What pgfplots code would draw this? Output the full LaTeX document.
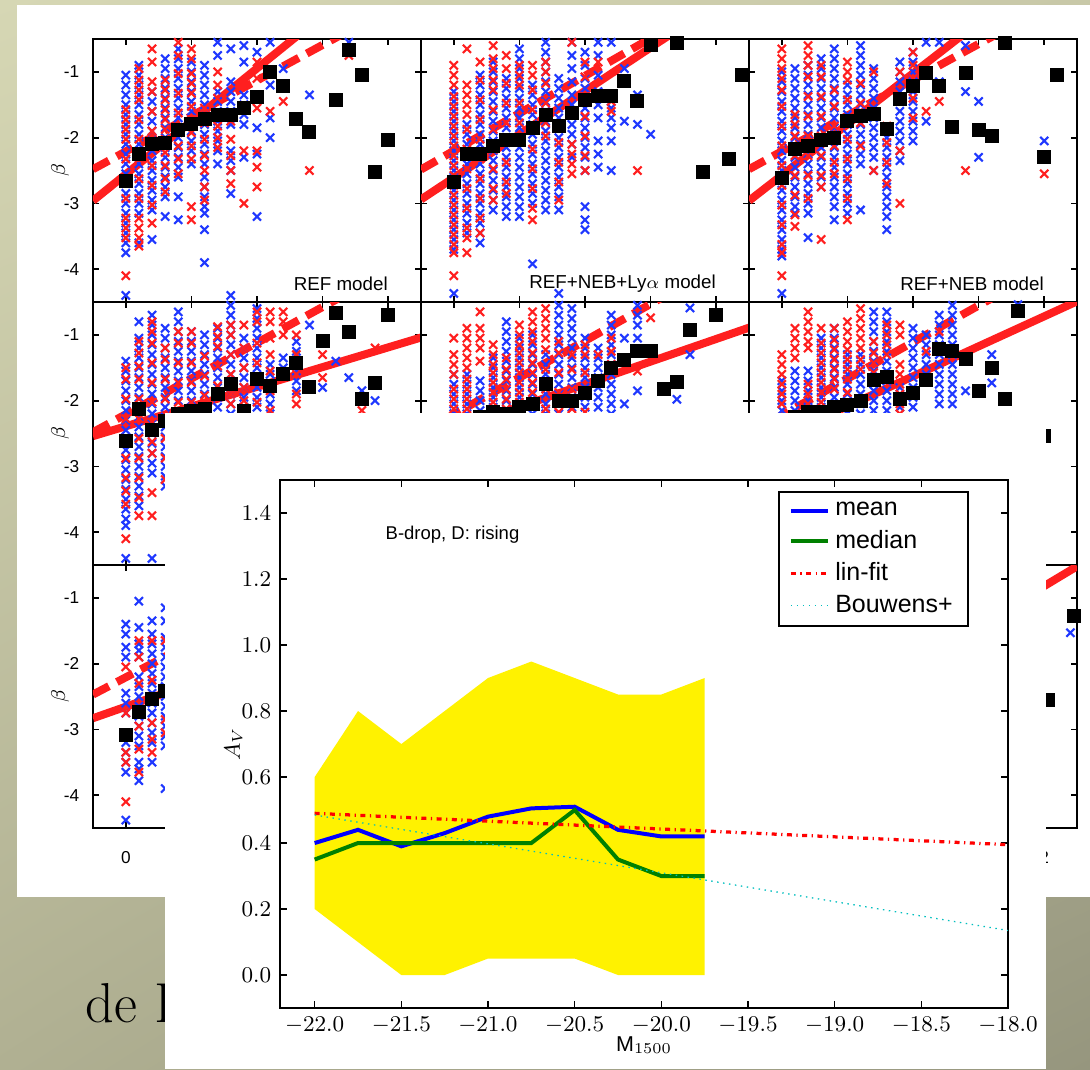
\documentclass[border=0pt]{standalone}
\usepackage{fontspec}
\usepackage{pgfplots}
\pgfplotsset{compat=1.18}
\usetikzlibrary{shadings}
\newfontfamily\hv{Liberation Sans}

\definecolor{mblue}{rgb}{0.12,0.22,1}
\definecolor{mred}{rgb}{1,0.12,0.12}
\definecolor{mgreen}{rgb}{0,0.5,0}
\definecolor{mcyan}{rgb}{0,0.75,0.75}
\definecolor{bgA}{RGB}{214,215,180}
\definecolor{bgB}{RGB}{200,200,168}
\definecolor{bgC}{RGB}{176,176,146}
\definecolor{bgD}{RGB}{150,150,126}

\tikzset{mlab/.style={anchor=east, inner sep=0pt, font=\hv\fontsize{7.5}{9}\selectfont}}

\pgfplotsset{
  panel/.style={scale only axis, width=131.2pt, height=105.2pt, anchor=north west,
    xmin=-0.25, xmax=2.25, ymin=-4.5, ymax=-0.5,
    xtick={0,0.5,1,1.5,2}, ytick={-4,-3,-2,-1},
    xticklabels={}, yticklabels={},
    tick align=inside, major tick length=2.4pt,
    axis line style={line width=0.9pt},
    every tick/.style={black, line width=0.7pt},
    tick label style={font=\hv\fontsize{6.9}{8}\selectfont}},
  leftcol/.style={yticklabels={-4,-3,-2,-1}, yticklabel style={xshift=-2pt},
    ylabel={$\beta$}, ylabel style={at={(axis description cs:-0.1,0.5)}, anchor=center, font=\fontsize{8}{10}\selectfont}},
  botrow/.style={xticklabel style={yshift=-6pt}},
  bx/.style={only marks, mark=x, mark size=2.3pt, color=mblue, mark options={line width=0.85pt}},
  rx/.style={only marks, mark=x, mark size=2.3pt, color=mred, mark options={line width=0.85pt}},
  sq/.style={only marks, mark=square*, mark size=2.6pt, black},
  fit/.style={mred, line width=3.2pt},
  fitd/.style={mred, line width=3.2pt, dash pattern=on 7.2pt off 3.6pt},
}

\begin{document}
\begin{tikzpicture}
\begin{scope}[x=0.4pt,y=-0.4pt]
  \shade[upper left=bgA, upper right=bgB, lower left=bgC, lower right=bgD] (0,0) rectangle (1090,1069);
  \node[anchor=base west, inner sep=0, font=\fontsize{22.5}{25}\selectfont] at (85,1022) {de B};
  \fill[white] (17,5) rectangle (1090,897);
  \coordinate (c11) at (93,39);  \coordinate (c12) at (421,39);  \coordinate (c13) at (749,39);
  \coordinate (c21) at (93,302); \coordinate (c22) at (421,302); \coordinate (c23) at (749,302);
  \coordinate (c31) at (93,565); \coordinate (c32) at (421,565); \coordinate (c33) at (749,565);
  \coordinate (ins) at (280,480);
\end{scope}

% ---------- row 1 ----------
\begin{axis}[panel, leftcol, at={(c11)}]
\addplot[bx] coordinates {
(0,-1.05)(0,-1.2)(0,-1.35)(0,-1.5)(0,-1.65)(0,-1.8)(0,-1.95)(0,-2.1)(0,-2.25)(0,-2.4)(0,-2.55)(0,-2.7)(0,-2.85)(0,-3.0)(0,-3.15)(0,-3.3)(0,-3.45)(0,-3.6)(0,-3.75)(0,-4.4)
(0.1,-0.9)(0.1,-1.05)(0.1,-1.2)(0.1,-1.35)(0.1,-1.5)(0.1,-1.65)(0.1,-1.8)(0.1,-1.95)(0.1,-2.1)(0.1,-2.25)(0.1,-2.4)(0.1,-2.55)(0.1,-2.7)(0.1,-2.85)(0.1,-3.0)(0.1,-3.15)(0.1,-3.6)
(0.2,-1.3)(0.2,-1.45)(0.2,-1.6)(0.2,-1.75)(0.2,-1.9)(0.2,-2.05)(0.2,-2.2)(0.2,-2.35)(0.2,-2.5)(0.2,-2.65)(0.2,-2.8)(0.2,-2.95)(0.2,-3.1)(0.2,-3.55)
(0.3,-0.8)(0.3,-0.95)(0.3,-1.1)(0.3,-1.25)(0.3,-1.4)(0.3,-1.55)(0.3,-1.7)(0.3,-1.85)(0.3,-2.0)(0.3,-2.15)(0.3,-2.3)(0.3,-2.45)(0.3,-2.6)(0.3,-2.75)(0.3,-2.9)(0.3,-3.2)
(0.4,-0.65)(0.4,-0.8)(0.4,-0.95)(0.4,-1.1)(0.4,-1.25)(0.4,-1.4)(0.4,-1.55)(0.4,-1.7)(0.4,-1.85)(0.4,-2.0)(0.4,-2.15)(0.4,-2.3)(0.4,-2.45)(0.4,-2.6)(0.4,-2.9)(0.4,-3.25)
(0.5,-0.85)(0.5,-1.0)(0.5,-1.15)(0.5,-1.3)(0.5,-1.45)(0.5,-1.6)(0.5,-1.75)(0.5,-1.9)(0.5,-2.05)(0.5,-2.2)(0.5,-2.4)
(0.6,-0.9)(0.6,-1.05)(0.6,-1.2)(0.6,-1.35)(0.6,-1.5)(0.6,-1.65)(0.6,-1.8)(0.6,-1.95)(0.6,-2.1)(0.6,-2.25)(0.6,-2.4)(0.6,-2.6)(0.6,-2.75)(0.6,-2.9)(0.6,-3.05)(0.6,-3.15)(0.6,-3.4)(0.6,-3.9)
(0.7,-0.55)(0.7,-0.75)(0.7,-1.3)(0.7,-1.45)(0.7,-1.6)(0.7,-1.75)(0.7,-1.9)(0.7,-2.05)(0.7,-2.2)(0.7,-2.4)
(0.8,-0.65)(0.8,-1.15)(0.8,-1.3)(0.8,-1.45)(0.8,-1.6)(0.8,-1.8)(0.8,-2.2)(0.8,-2.35)(0.8,-2.5)(0.8,-2.85)(0.8,-4.4)
(0.9,-0.6)(0.9,-0.85)(0.9,-1.35)(0.9,-1.5)(0.9,-1.65)(0.9,-1.8)(0.9,-2.3)
(1.0,-0.7)(1.0,-1.85)(1.0,-2.25)(1.0,-3.2)(1.1,-0.55)(1.1,-1.2)(1.1,-1.7)(1.1,-2.0)
(1.2,-0.95)(1.4,-1.35)(1.7,-0.55)};
\addplot[rx] coordinates {
(0,-1.575)(0,-1.725)(0,-1.875)(0,-2.025)(0,-2.325)(0,-2.625)(0,-2.925)(0,-3.225)(0,-3.375)(0,-3.525)(0,-4.1)
(0.1,-0.95)(0.1,-1.125)(0.1,-1.275)(0.1,-1.425)(0.1,-1.725)(0.1,-2.025)(0.1,-2.325)(0.1,-2.625)(0.1,-2.925)(0.1,-3.225)(0.1,-3.375)(0.1,-3.525)(0.1,-3.65)
(0.2,-0.65)(0.2,-0.85)(0.2,-1.15)(0.2,-1.3)(0.2,-1.6)(0.2,-1.9)(0.2,-2.425)(0.2,-2.725)(0.2,-3.025)(0.2,-3.3)
(0.3,-1.125)(0.3,-1.275)(0.3,-1.425)(0.3,-1.575)(0.3,-1.725)(0.3,-1.875)(0.3,-2.025)(0.3,-2.225)(0.3,-2.425)(0.3,-2.625)(0.3,-2.825)
(0.4,-0.55)(0.4,-0.75)(0.4,-1.025)(0.4,-1.325)(0.4,-1.625)(0.4,-1.925)(0.4,-2.125)(0.4,-2.325)(0.4,-2.55)
(0.5,-0.65)(0.5,-0.8)(0.5,-1.025)(0.5,-1.175)(0.5,-1.325)(0.5,-1.525)(0.5,-1.725)(0.5,-1.925)(0.5,-2.125)(0.5,-2.325)(0.5,-3.05)(0.5,-3.25)
(0.6,-1.55)(0.6,-1.775)(0.6,-2.025)(0.6,-2.275)(0.6,-2.5)(0.6,-2.75)(0.6,-2.95)
(0.7,-1.0)(0.7,-1.2)(0.7,-1.4)(0.7,-1.825)(0.7,-2.0)(0.7,-2.15)
(0.8,-1.75)(0.8,-2.025)(0.8,-2.275)(0.8,-2.5)(0.8,-2.7)(0.9,-2.2)(0.9,-3.0)
(1.0,-0.85)(1.0,-1.1)(1.0,-1.55)(1.0,-2.2)(1.0,-2.45)(1.0,-2.75)
(1.1,-1.6)(1.2,-1.45)(1.4,-2.5)(1.7,-0.75)};
\addplot[fit] coordinates {(-0.25,-2.96)(1.6,0.02)};
\addplot[fitd] coordinates {(-0.25,-2.48)(2.25,0.22)};
\addplot[sq] coordinates {(0,-2.66)(0.1,-2.25)(0.2,-2.09)(0.3,-2.08)(0.4,-1.89)(0.5,-1.8)(0.6,-1.71)(0.7,-1.66)(0.8,-1.65)(0.9,-1.55)(1.0,-1.38)(1.1,-1.0)(1.2,-1.21)(1.3,-1.71)(1.4,-1.92)(1.6,-1.43)(1.7,-0.66)(1.8,-1.05)(1.9,-2.53)(2.0,-2.04)};
\node[mlab] at (axis description cs:0.9,0.07) {REF model};
\end{axis}

\begin{axis}[panel, at={(c12)}]
\addplot[bx] coordinates {
(0,-1.3)(0,-1.45)(0,-1.6)(0,-1.75)(0,-1.9)(0,-2.05)(0,-2.2)(0,-2.35)(0,-2.5)(0,-2.65)(0,-2.8)(0,-2.95)(0,-3.1)(0,-3.25)(0,-3.4)(0,-3.55)(0,-3.7)(0,-4.37)
(0.1,-1.8)(0.1,-1.95)(0.1,-2.1)(0.1,-2.25)(0.1,-2.4)(0.1,-2.55)(0.1,-2.7)(0.1,-2.85)(0.1,-3.0)(0.1,-3.15)(0.1,-3.3)(0.1,-3.45)
(0.2,-1.05)(0.2,-1.2)(0.2,-1.35)(0.2,-1.5)(0.2,-1.65)(0.2,-1.8)(0.2,-1.95)(0.2,-2.1)(0.2,-2.25)(0.2,-2.4)(0.2,-2.55)(0.2,-2.7)(0.2,-2.85)(0.2,-3.0)(0.2,-3.15)(0.2,-3.3)(0.2,-3.45)(0.2,-3.6)
(0.3,-0.85)(0.3,-1.0)(0.3,-1.15)(0.3,-1.3)(0.3,-1.45)(0.3,-1.6)(0.3,-1.75)(0.3,-1.9)(0.3,-2.05)(0.3,-2.2)(0.3,-2.35)(0.3,-2.5)(0.3,-2.65)(0.3,-2.8)(0.3,-2.95)(0.3,-3.1)
(0.4,-1.1)(0.4,-1.25)(0.4,-1.4)(0.4,-1.55)(0.4,-1.7)(0.4,-1.85)(0.4,-2.0)(0.4,-2.15)(0.4,-2.3)(0.4,-2.45)(0.4,-2.6)(0.4,-2.75)(0.4,-2.9)(0.4,-3.05)(0.4,-3.2)
(0.5,-0.65)(0.5,-0.8)(0.5,-0.95)(0.5,-1.1)(0.5,-1.25)(0.5,-1.4)(0.5,-1.55)(0.5,-1.7)(0.5,-1.85)(0.5,-2.0)(0.5,-2.15)(0.5,-2.3)(0.5,-2.45)(0.5,-2.6)(0.5,-2.75)(0.5,-2.9)(0.5,-3.05)(0.5,-3.2)
(0.6,-1.2)(0.6,-1.35)(0.6,-1.5)(0.6,-1.65)(0.6,-1.8)(0.6,-1.95)(0.6,-2.1)(0.6,-2.25)(0.6,-2.4)(0.6,-2.55)(0.6,-2.7)(0.6,-2.85)(0.6,-3.0)(0.6,-3.92)
(0.7,-0.55)(0.7,-0.7)(0.7,-0.85)(0.7,-1.0)(0.7,-1.15)(0.7,-1.3)(0.7,-1.45)(0.7,-1.6)(0.7,-1.75)(0.7,-1.9)(0.7,-2.05)(0.7,-2.2)(0.7,-2.35)(0.7,-2.5)(0.7,-2.65)(0.7,-2.8)(0.7,-2.95)(0.7,-3.1)
(0.8,-1.1)(0.8,-1.25)(0.8,-1.4)(0.8,-1.55)(0.8,-1.7)(0.8,-1.85)(0.8,-2.0)(0.8,-2.15)(0.8,-2.3)(0.8,-2.45)(0.8,-2.6)(0.8,-2.75)(0.8,-2.9)(0.8,-3.1)(0.8,-4.37)
(0.9,-0.55)(0.9,-0.75)(0.9,-0.95)(0.9,-1.15)(0.9,-1.35)(0.9,-1.5)(0.9,-1.65)(0.9,-1.8)(0.9,-1.95)(0.9,-2.1)(0.9,-2.3)
(1.0,-0.7)(1.0,-0.9)(1.0,-1.1)(1.0,-1.25)(1.0,-1.4)(1.0,-1.55)(1.0,-1.7)(1.0,-1.85)(1.0,-2.0)(1.0,-2.15)(1.0,-2.3)(1.0,-2.5)(1.0,-3.05)(1.0,-3.25)(1.0,-3.4)
(1.1,-0.55)(1.1,-0.75)(1.1,-1.05)(1.1,-1.3)(1.1,-1.5)(1.1,-1.7)(1.1,-2.05)(1.1,-2.25)(1.1,-2.45)
(1.2,-0.55)(1.2,-1.55)(1.2,-1.7)(1.2,-1.85)(1.2,-2.05)(1.2,-2.5)(1.3,-0.95)(1.3,-1.15)(1.3,-1.75)(1.4,-1.35)(1.4,-1.8)(1.5,-1.95)};
\addplot[rx] coordinates {
(0,-0.9)(0,-1.05)(0,-1.2)(0,-1.375)(0,-1.525)(0,-1.675)(0,-1.825)(0,-1.975)(0,-2.125)(0,-2.275)(0,-2.425)(0,-2.575)(0,-2.725)(0,-2.875)(0,-3.025)(0,-3.175)(0,-3.325)(0,-3.475)(0,-3.625)(0,-3.75)(0,-4.1)
(0.1,-0.65)(0.1,-1.2)(0.1,-1.35)(0.1,-1.5)(0.1,-1.65)(0.1,-1.875)(0.1,-2.175)(0.1,-2.475)(0.1,-2.775)(0.1,-3.075)(0.1,-3.375)(0.1,-3.525)(0.1,-3.75)
(0.2,-0.85)(0.2,-1.125)(0.2,-1.425)(0.2,-1.725)(0.2,-2.025)(0.2,-2.325)(0.2,-2.625)(0.2,-2.925)(0.2,-3.225)(0.2,-3.45)
(0.3,-0.6)(0.3,-0.8)(0.3,-0.95)(0.3,-1.125)(0.3,-1.275)(0.3,-1.575)(0.3,-1.875)(0.3,-2.175)(0.3,-2.475)(0.3,-2.775)(0.3,-2.95)
(0.4,-0.75)(0.4,-0.95)(0.4,-1.175)(0.4,-1.475)(0.4,-1.775)(0.4,-2.075)(0.4,-2.375)(0.4,-2.675)(0.4,-2.85)
(0.5,-0.9)(0.5,-1.05)(0.5,-1.2)(0.5,-1.475)(0.5,-1.775)(0.5,-2.0)
(0.6,-0.9)(0.6,-1.05)(0.6,-1.275)(0.6,-1.575)(0.6,-1.875)(0.6,-2.175)(0.6,-2.475)(0.6,-2.775)(0.6,-3.075)(0.6,-3.25)
(0.7,-0.85)(0.7,-1.0)(0.7,-1.175)(0.7,-1.475)(0.7,-1.775)(0.7,-1.975)
(0.8,-2.075)(0.8,-2.375)(0.8,-2.675)(0.8,-2.95)(0.9,-0.55)(0.9,-2.1)(0.9,-2.25)(0.9,-2.4)(0.9,-2.55)
(1.0,-0.85)(1.0,-1.075)(1.0,-1.375)(1.0,-1.675)(1.0,-1.975)(1.0,-2.275)(1.0,-2.5)
(1.1,-0.85)(1.2,-1.45)(1.2,-1.6)(1.4,-2.5)};
\addplot[fit] coordinates {(-0.25,-2.94)(2.25,0.36)};
\addplot[fitd] coordinates {(-0.25,-2.485)(2.25,0.365)};
\addplot[sq] coordinates {(0,-2.68)(0.1,-2.25)(0.2,-2.25)(0.3,-2.13)(0.4,-2.03)(0.5,-2.03)(0.6,-1.85)(0.7,-1.65)(0.8,-1.82)(0.9,-1.62)(1.0,-1.42)(1.1,-1.37)(1.2,-1.37)(1.3,-1.14)(1.4,-1.45)(1.5,-0.59)(1.7,-0.56)(1.9,-2.53)(2.1,-2.32)(2.2,-1.04)};
\node[mlab] at (axis description cs:0.9,0.07) {REF+NEB+Ly$\alpha$ model};
\end{axis}

\begin{axis}[panel, at={(c13)}]
\addplot[bx] coordinates {
(0,-1.0)(0,-1.15)(0,-1.3)(0,-1.45)(0,-1.6)(0,-1.75)(0,-1.9)(0,-2.05)(0,-2.2)(0,-2.35)(0,-2.5)(0,-2.65)(0,-2.8)(0,-2.95)(0,-3.1)(0,-3.25)(0,-3.4)(0,-3.55)(0,-3.7)(0,-3.8)(0,-4.37)
(0.1,-0.95)(0.1,-1.1)(0.1,-1.25)(0.1,-1.4)(0.1,-1.55)(0.1,-1.7)(0.1,-1.85)(0.1,-2.0)(0.1,-2.15)(0.1,-2.3)(0.1,-2.45)(0.1,-2.6)(0.1,-2.75)(0.1,-2.9)(0.1,-3.05)(0.1,-3.15)
(0.2,-0.9)(0.2,-1.05)(0.2,-1.2)(0.2,-1.35)(0.2,-1.5)(0.2,-1.65)(0.2,-1.8)(0.2,-1.95)(0.2,-2.1)(0.2,-2.25)(0.2,-2.4)(0.2,-2.55)(0.2,-2.7)(0.2,-2.85)(0.2,-3.0)(0.2,-3.15)(0.2,-3.52)
(0.3,-0.8)(0.3,-0.95)(0.3,-1.1)(0.3,-1.25)(0.3,-1.4)(0.3,-1.55)(0.3,-1.7)(0.3,-1.85)(0.3,-2.0)(0.3,-2.15)(0.3,-2.3)(0.3,-2.45)(0.3,-2.6)(0.3,-2.75)
(0.4,-0.65)(0.4,-0.8)(0.4,-0.95)(0.4,-1.1)(0.4,-1.25)(0.4,-1.4)(0.4,-1.55)(0.4,-1.7)(0.4,-1.85)(0.4,-2.0)(0.4,-2.15)(0.4,-2.3)(0.4,-2.45)(0.4,-2.6)(0.4,-2.75)(0.4,-2.9)(0.4,-3.05)(0.4,-3.25)
(0.5,-1.2)(0.5,-1.35)(0.5,-1.5)(0.5,-1.65)(0.5,-1.8)(0.5,-1.95)(0.5,-2.1)(0.5,-2.25)(0.5,-2.4)(0.5,-2.55)(0.5,-2.7)(0.5,-2.85)(0.5,-3.0)(0.5,-3.15)
(0.6,-0.6)(0.6,-0.75)(0.6,-0.9)(0.6,-1.05)(0.6,-1.2)(0.6,-1.35)(0.6,-1.5)(0.6,-1.65)(0.6,-1.8)(0.6,-1.95)(0.6,-2.1)(0.6,-2.25)(0.6,-2.4)(0.6,-3.1)
(0.7,-0.95)(0.7,-1.1)(0.7,-1.25)(0.7,-1.4)(0.7,-1.55)(0.7,-1.7)(0.7,-1.85)(0.7,-2.0)(0.7,-2.15)(0.7,-2.3)(0.7,-2.5)
(0.8,-1.85)(0.8,-2.0)(0.8,-2.15)(0.8,-2.3)(0.8,-2.45)(0.8,-2.6)(0.8,-2.75)(0.8,-2.9)(0.8,-3.05)(0.8,-3.2)(0.8,-3.4)
(0.9,-0.85)(0.9,-1.0)(0.9,-1.15)(0.9,-1.3)(0.9,-1.45)(0.9,-1.6)(0.9,-1.75)(0.9,-1.9)(0.9,-2.05)(0.9,-2.2)(0.9,-2.35)
(1.0,-0.7)(1.0,-0.85)(1.0,-1.0)(1.0,-1.15)(1.0,-1.3)(1.0,-1.45)(1.0,-1.6)(1.0,-1.75)(1.0,-1.9)(1.0,-2.05)
(1.1,-0.55)(1.1,-1.75)(1.2,-0.55)(1.2,-1.15)(1.4,-0.6)(1.4,-1.3)(1.5,-1.45)(1.5,-2.3)(2.0,-2.05)};
\addplot[rx] coordinates {
(0,-0.65)(0,-0.8)(0,-0.95)(0,-1.1)(0,-1.275)(0,-1.525)(0,-1.825)(0,-2.125)(0,-2.425)(0,-2.725)(0,-3.025)(0,-3.325)(0,-3.625)(0,-3.75)(0,-4.1)
(0.1,-1.65)(0.1,-1.8)(0.1,-1.975)(0.1,-2.275)(0.1,-2.575)(0.1,-2.875)(0.1,-3.175)(0.1,-3.35)
(0.2,-0.6)(0.2,-0.75)(0.2,-0.9)(0.2,-1.075)(0.2,-1.375)(0.2,-1.675)(0.2,-1.975)(0.2,-2.275)(0.2,-2.575)(0.2,-2.925)
(0.3,-0.9)(0.3,-1.075)(0.3,-1.375)(0.3,-1.675)(0.3,-1.975)(0.3,-2.275)(0.3,-2.575)(0.3,-2.75)(0.3,-3.55)
(0.4,-1.275)(0.4,-1.525)(0.4,-1.825)(0.4,-2.125)(0.4,-2.375)(0.4,-2.55)
(0.5,-0.85)(0.5,-1.0)(0.5,-1.125)(0.5,-1.425)(0.5,-1.725)(0.5,-2.025)(0.5,-2.325)(0.5,-2.625)(0.5,-2.925)(0.5,-3.25)
(0.6,-1.175)(0.6,-1.475)(0.6,-1.775)(0.6,-2.125)(0.7,-1.0)(0.7,-2.5)
(0.8,-1.825)(0.8,-2.075)(0.8,-2.375)(0.8,-2.7)(0.9,-1.0)(0.9,-2.2)(0.9,-3.0)
(1.0,-0.7)(1.0,-0.9)(1.0,-1.1)(1.0,-1.4)(1.0,-1.7)(1.1,-1.6)(1.2,-1.45)(1.4,-2.5)(2.0,-2.55)};
\addplot[fit] coordinates {(-0.25,-2.96)(1.75,0.14)};
\addplot[fitd] coordinates {(-0.25,-2.48)(2.25,0.24)};
\addplot[sq] coordinates {(0,-2.61)(0.1,-2.18)(0.2,-2.12)(0.3,-2.03)(0.4,-2.0)(0.5,-1.75)(0.6,-1.67)(0.7,-1.64)(0.8,-1.87)(0.9,-1.41)(1.0,-1.21)(1.1,-1.02)(1.2,-1.21)(1.3,-1.84)(1.4,-1.01)(1.5,-1.88)(1.6,-1.98)(1.7,-0.56)(2.0,-2.29)(2.1,-1.04)};
\node[mlab] at (axis description cs:0.9,0.07) {REF+NEB model};
\end{axis}

% ---------- row 2 ----------
\begin{axis}[panel, leftcol, at={(c21)}]
\addplot[bx] coordinates {
(0,-1.4)(0,-1.55)(0,-1.7)(0,-1.85)(0,-2.0)(0,-2.15)(0,-2.3)(0,-2.45)(0,-2.6)(0,-2.75)(0,-2.9)(0,-3.05)(0,-3.2)(0,-3.35)(0,-3.5)(0,-3.65)(0,-3.8)(0,-3.9)(0,-4.4)
(0.1,-0.8)(0.1,-1.05)(0.1,-1.2)(0.1,-1.35)(0.1,-1.5)(0.1,-1.65)(0.1,-1.8)(0.1,-1.95)(0.1,-2.1)(0.1,-2.25)(0.1,-2.4)(0.1,-2.55)(0.1,-2.7)(0.1,-2.85)(0.1,-3.0)(0.1,-3.15)(0.1,-3.3)(0.1,-3.45)(0.1,-3.6)
(0.2,-0.7)(0.2,-0.85)(0.2,-1.0)(0.2,-1.15)(0.2,-1.3)(0.2,-1.45)(0.2,-1.6)(0.2,-1.75)(0.2,-1.9)(0.2,-2.05)(0.2,-2.2)(0.2,-2.35)(0.2,-2.5)(0.2,-2.65)(0.2,-2.8)(0.2,-2.95)(0.2,-3.1)(0.2,-4.4)
(0.3,-0.9)(0.3,-1.05)(0.3,-1.2)(0.3,-1.35)(0.3,-1.5)(0.3,-1.65)(0.3,-1.8)(0.3,-1.95)(0.3,-2.1)(0.3,-2.25)(0.3,-2.4)(0.3,-2.55)(0.3,-2.7)(0.3,-2.85)(0.3,-3.0)(0.3,-3.15)(0.3,-3.3)
(0.4,-0.65)(0.4,-0.8)(0.4,-0.95)(0.4,-1.1)(0.4,-1.25)(0.4,-1.4)(0.4,-1.55)(0.4,-1.7)(0.4,-1.85)(0.4,-2.0)
(0.5,-0.95)(0.5,-1.1)(0.5,-1.25)(0.5,-1.4)(0.5,-1.55)(0.5,-1.7)(0.5,-1.85)(0.5,-2.0)(0.5,-2.15)
(0.6,-1.0)(0.6,-1.15)(0.6,-1.3)(0.6,-1.45)(0.6,-1.6)(0.6,-1.75)(0.6,-1.9)
(0.7,-0.9)(0.7,-1.05)(0.7,-1.2)(0.7,-1.35)(0.7,-1.5)(0.7,-1.65)(0.7,-1.8)(0.7,-1.95)(0.7,-2.1)
(0.8,-0.55)(0.8,-0.7)(0.8,-0.85)(0.8,-1.0)(0.8,-1.15)(0.8,-1.3)(0.8,-1.45)(0.8,-1.6)(0.8,-1.75)(0.8,-1.9)(0.8,-2.05)(0.8,-2.2)
(0.9,-1.05)(0.9,-1.2)(0.9,-1.35)(0.9,-1.5)(0.9,-1.65)(0.9,-1.8)(0.9,-1.95)(0.9,-2.1)
(1.0,-0.6)(1.0,-0.75)(1.0,-0.9)(1.0,-1.05)(1.0,-1.2)(1.0,-1.35)(1.0,-1.5)(1.0,-1.65)(1.0,-1.8)(1.0,-1.95)(1.0,-2.1)
(1.1,-1.45)(1.1,-1.6)(1.1,-1.75)(1.1,-1.9)(1.1,-2.05)(1.1,-2.2)(1.2,-1.35)(1.2,-1.5)
(1.3,-1.1)(1.3,-1.25)(1.3,-1.4)(1.3,-1.55)(1.3,-1.7)(1.3,-1.85)(1.4,-0.85)(1.5,-1.8)(1.6,-1.4)(1.7,-1.65)(1.8,-1.85)(1.9,-2.0)};
\addplot[rx] coordinates {
(0,-1.5)(0,-1.675)(0,-1.975)(0,-2.275)(0,-2.575)(0,-2.875)(0,-3.175)(0,-3.375)(0,-3.575)(0,-4.1)
(0.1,-1.1)(0.1,-1.275)(0.1,-1.475)(0.1,-1.675)(0.1,-1.975)(0.1,-2.275)(0.1,-2.575)(0.1,-2.875)(0.1,-3.175)(0.1,-3.475)(0.1,-3.75)
(0.2,-0.8)(0.2,-0.95)(0.2,-1.125)(0.2,-1.425)(0.2,-1.725)(0.2,-2.025)(0.2,-2.325)(0.2,-2.625)(0.2,-2.8)(0.2,-3.4)(0.2,-3.75)
(0.3,-1.2)(0.3,-1.375)(0.3,-1.675)(0.3,-1.975)(0.3,-2.275)(0.3,-2.575)(0.3,-2.875)(0.3,-3.2)
(0.4,-0.95)(0.4,-1.125)(0.4,-1.425)(0.4,-1.725)(0.4,-2.025)(0.4,-2.2)
(0.5,-0.95)(0.5,-1.125)(0.5,-1.425)(0.5,-1.725)(0.5,-2.025)(0.6,-1.325)(0.6,-1.625)(0.6,-1.925)(0.6,-2.15)
(0.7,-0.875)(0.7,-1.025)(0.7,-1.175)(0.7,-1.475)(0.7,-1.775)
(0.8,-0.85)(0.8,-1.0)(0.8,-1.3)(0.8,-1.6)(0.8,-1.9)(0.8,-2.05)(0.9,-0.85)(0.9,-1.2)(0.9,-1.5)(0.9,-1.8)(0.9,-2.0)
(1.0,-0.65)(1.0,-0.8)(1.0,-1.125)(1.0,-1.425)(1.0,-1.725)(1.0,-2.025)
(1.1,-0.65)(1.1,-0.8)(1.1,-1.05)(1.1,-1.3)(1.1,-1.55)(1.1,-1.85)(1.1,-2.15)(1.2,-0.65)(1.2,-0.8)(1.2,-1.0)
(1.3,-1.0)(1.3,-1.3)(1.3,-1.6)(1.3,-1.9)(1.3,-2.05)(1.5,-1.3)(1.5,-1.65)(1.8,-2.15)(1.9,-1.2)};
\addplot[fit] coordinates {(-0.25,-2.54)(2.25,-1.04)};
\addplot[fitd] coordinates {(-0.25,-2.48)(2.25,0.24)};
\addplot[sq] coordinates {(0,-2.61)(0.1,-2.13)(0.2,-2.45)(0.3,-2.31)(0.4,-2.2)(0.5,-2.15)(0.6,-2.13)(0.7,-1.9)(0.8,-1.75)(0.9,-2.16)(1.0,-1.67)(1.1,-1.77)(1.2,-1.6)(1.3,-1.43)(1.4,-1.79)(1.5,-1.1)(1.6,-0.67)(1.7,-0.96)(1.8,-1.97)(1.9,-1.73)(2.0,-0.69)};
\end{axis}

\begin{axis}[panel, at={(c22)}]
\addplot[bx] coordinates {
(0,-1.6)(0,-1.75)(0,-1.9)(0,-2.05)(0,-2.2)(0.1,-1.6)(0.1,-1.75)(0.1,-1.9)(0.1,-2.05)(0.1,-2.2)
(0.2,-1.7)(0.2,-1.85)(0.2,-2.0)(0.2,-2.15)(0.3,-1.35)(0.3,-1.5)(0.3,-1.65)(0.3,-1.8)(0.3,-1.95)(0.3,-2.1)
(0.4,-0.8)(0.4,-0.95)(0.4,-1.1)(0.4,-1.25)(0.4,-1.4)(0.4,-1.55)(0.4,-1.7)(0.4,-1.85)(0.4,-2.0)(0.4,-2.15)
(0.5,-1.05)(0.5,-1.2)(0.5,-1.35)(0.5,-1.5)(0.5,-1.65)(0.5,-1.8)(0.5,-1.95)(0.5,-2.1)
(0.6,-1.0)(0.6,-1.15)(0.6,-1.3)(0.6,-1.45)(0.6,-1.6)(0.6,-1.75)(0.6,-1.9)(0.6,-2.05)(0.6,-2.2)
(0.7,-1.3)(0.7,-1.45)(0.7,-1.6)(0.7,-1.75)(0.7,-1.9)(0.7,-2.05)(0.7,-2.2)
(0.8,-0.55)(0.8,-0.7)(0.8,-0.85)(0.8,-1.0)(0.8,-1.15)(0.8,-1.3)(0.8,-1.45)(0.8,-1.6)(0.8,-1.75)(0.8,-1.9)(0.8,-2.05)(0.8,-2.2)
(0.9,-0.6)(0.9,-0.75)(0.9,-0.9)(0.9,-1.05)(0.9,-1.2)(0.9,-1.35)(0.9,-1.5)(0.9,-1.65)(0.9,-1.8)(0.9,-1.95)(0.9,-2.1)
(1.0,-1.05)(1.0,-1.2)(1.0,-1.35)(1.0,-1.5)(1.0,-1.65)(1.0,-1.8)(1.0,-1.95)(1.0,-2.1)
(1.1,-1.2)(1.1,-1.35)(1.1,-1.5)(1.1,-1.65)(1.1,-1.8)(1.1,-1.95)(1.1,-2.1)
(1.2,-0.7)(1.2,-0.85)(1.2,-1.0)(1.2,-1.15)(1.2,-1.3)(1.2,-1.45)(1.2,-1.6)(1.2,-1.75)(1.2,-1.9)(1.2,-2.05)(1.2,-2.2)
(1.3,-1.05)(1.3,-2.05)(1.4,-0.55)(1.4,-0.7)(1.4,-0.85)(1.4,-1.05)(1.4,-1.85)(1.6,-1.85)(1.7,-1.98)(1.8,-0.59)(1.8,-1.3)};
\addplot[rx] coordinates {
(0,-1.05)(0,-1.3)(0,-1.45)(0,-1.6)(0,-1.825)(0,-1.975)(0,-2.125)
(0.1,-0.9)(0.1,-1.05)(0.1,-1.2)(0.1,-1.35)(0.1,-1.5)(0.1,-1.675)(0.1,-1.825)(0.1,-1.975)(0.1,-2.125)
(0.2,-0.65)(0.2,-0.9)(0.2,-1.05)(0.2,-1.2)(0.2,-1.4)
(0.3,-1.15)(0.3,-1.3)(0.3,-1.45)(0.3,-1.575)(0.3,-1.725)(0.3,-1.875)(0.3,-2.025)(0.3,-2.175)
(0.4,-1.35)(0.4,-1.525)(0.4,-1.675)(0.4,-1.825)(0.4,-1.975)(0.4,-2.125)
(0.5,-0.85)(0.5,-1.0)(0.5,-1.15)(0.5,-1.275)(0.5,-1.425)(0.5,-1.575)(0.5,-1.725)(0.5,-1.875)(0.5,-2.025)
(0.6,-0.65)(0.6,-0.8)(0.6,-0.95)(0.6,-1.1)(0.6,-1.275)(0.6,-1.425)(0.6,-1.575)(0.6,-1.725)(0.6,-1.875)(0.6,-2.025)
(0.7,-0.6)(0.7,-0.75)(0.7,-0.9)(0.7,-1.05)(0.7,-1.225)(0.7,-1.525)(0.7,-1.825)(0.7,-2.125)
(0.8,-1.1)(0.8,-1.275)(0.8,-1.575)(0.8,-1.875)(0.8,-2.175)(0.9,-1.3)(0.9,-1.525)(0.9,-1.825)(0.9,-2.125)
(1.0,-1.15)(1.0,-1.3)(1.0,-1.575)(1.0,-1.875)(1.0,-2.175)(1.1,-1.3)(1.2,-1.05)(1.2,-1.25)(1.2,-1.45)(1.4,-1.55)(1.5,-0.74)};
\addplot[fit] coordinates {(-0.25,-2.61)(2.25,-0.89)};
\addplot[fitd] coordinates {(-0.25,-2.49)(2.25,0.31)};
\addplot[sq] coordinates {(0,-2.3)(0.1,-2.3)(0.2,-2.25)(0.3,-2.18)(0.4,-2.2)(0.5,-2.1)(0.6,-2.05)(0.7,-1.75)(0.8,-2.0)(0.9,-2.0)(1.0,-1.88)(1.1,-1.7)(1.2,-1.51)(1.3,-1.38)(1.4,-1.25)(1.5,-1.25)(1.6,-1.83)(1.7,-1.71)(1.8,-0.92)(2.0,-0.69)};
\end{axis}

\begin{axis}[panel, at={(c23)}]
\addplot[bx] coordinates {
(0,-1.7)(0,-1.85)(0,-2.0)(0,-2.15)(0.1,-1.55)(0.1,-1.7)(0.1,-1.85)(0.1,-2.0)(0.1,-2.15)
(0.2,-1.55)(0.2,-1.7)(0.2,-1.85)(0.2,-2.0)(0.2,-2.15)
(0.3,-1.05)(0.3,-1.2)(0.3,-1.35)(0.3,-1.5)(0.3,-1.65)(0.3,-1.8)(0.3,-1.95)(0.3,-2.1)
(0.4,-0.9)(0.4,-1.05)(0.4,-1.2)(0.4,-1.35)(0.4,-1.5)(0.4,-1.65)(0.4,-1.8)(0.4,-1.95)
(0.5,-1.3)(0.5,-1.45)(0.5,-1.6)(0.5,-1.75)(0.5,-1.9)(0.5,-2.05)(0.5,-2.2)
(0.6,-1.3)(0.6,-1.45)(0.6,-1.6)(0.6,-1.75)(0.6,-1.9)(0.6,-2.05)(0.6,-2.2)
(0.7,-0.65)(0.7,-0.8)(0.7,-0.95)(0.7,-1.1)(0.7,-1.25)(0.7,-1.4)(0.7,-1.55)(0.7,-1.7)(0.7,-1.85)(0.7,-2.0)(0.7,-2.15)
(0.8,-0.65)(0.8,-0.8)(0.8,-0.95)(0.8,-1.1)(0.8,-1.25)(0.8,-1.4)(0.8,-1.55)(0.8,-1.7)(0.8,-1.85)(0.8,-2.0)(0.8,-2.15)
(0.9,-1.8)(0.9,-1.95)(0.9,-2.1)
(1.0,-0.9)(1.0,-1.05)(1.0,-1.2)(1.0,-1.35)(1.0,-1.5)(1.0,-1.65)(1.0,-1.8)(1.0,-1.95)(1.0,-2.1)
(1.1,-1.0)(1.1,-1.15)(1.1,-1.3)(1.1,-1.45)(1.1,-1.6)
(1.2,-0.7)(1.2,-0.85)(1.2,-1.0)(1.2,-1.15)(1.2,-1.3)(1.2,-1.45)(1.2,-1.6)(1.2,-1.75)(1.2,-1.9)(1.2,-2.05)
(1.3,-0.55)(1.3,-0.7)(1.3,-0.85)(1.3,-1.0)(1.3,-1.15)(1.3,-1.3)(1.3,-1.45)(1.3,-1.6)(1.3,-1.75)(1.3,-1.9)(1.3,-2.05)
(1.4,-1.85)(1.6,-1.3)(1.6,-1.73)(1.8,-0.54)};
\addplot[rx] coordinates {
(0,-1.3)(0,-1.45)(0,-1.6)(0,-1.75)(0,-1.9)(0,-2.05)(0.1,-0.9)(0.1,-1.05)(0.1,-1.2)(0.1,-1.35)
(0.2,-0.65)(0.2,-0.8)(0.2,-0.95)(0.2,-1.1)(0.2,-1.2)(0.2,-1.75)(0.2,-1.9)(0.2,-2.05)
(0.3,-0.9)(0.3,-1.125)(0.3,-1.275)(0.3,-1.425)(0.3,-1.575)(0.3,-1.725)(0.3,-1.875)(0.3,-2.025)
(0.4,-0.9)(0.4,-1.075)(0.4,-1.225)(0.4,-1.375)(0.4,-1.525)(0.4,-1.675)(0.4,-1.825)(0.4,-2.1)
(0.5,-0.8)(0.5,-0.95)(0.5,-1.1)(0.5,-1.225)(0.5,-1.375)(0.5,-1.525)(0.5,-1.675)(0.5,-1.875)
(0.6,-0.6)(0.6,-0.75)(0.6,-0.9)(0.6,-1.05)(0.6,-1.2)(0.6,-1.375)(0.6,-1.525)
(0.7,-1.1)(0.7,-1.275)(0.7,-1.425)(0.7,-1.575)(0.8,-0.85)(0.8,-1.0)(0.8,-1.15)(0.8,-1.3)
(0.9,-0.85)(0.9,-1.0)(0.9,-1.45)(0.9,-1.6)(0.9,-1.75)(0.9,-1.9)(0.9,-2.05)(0.9,-2.2)(1.1,-1.25)(1.2,-0.95)};
\addplot[fit] coordinates {(-0.25,-2.77)(2.25,-0.49)};
\addplot[fitd] coordinates {(-0.25,-2.5)(2.25,0.28)};
\addplot[sq] coordinates {(0,-2.3)(0.1,-2.25)(0.2,-2.18)(0.3,-2.18)(0.4,-2.1)(0.5,-2.06)(0.6,-2.0)(0.7,-1.69)(0.8,-1.64)(0.9,-1.98)(1.0,-1.88)(1.1,-1.69)(1.2,-1.22)(1.3,-1.24)(1.4,-1.37)(1.5,-1.85)(1.6,-1.5)(1.7,-1.98)(1.8,-0.63)(2.0,-2.54)};
\end{axis}

% ---------- row 3 (mostly behind the inset) ----------
\begin{axis}[panel, leftcol, botrow, xticklabels={0,,,,}, at={(c31)}]
\addplot[bx] coordinates {
(0,-1.4)(0,-1.55)(0,-1.75)(0,-1.9)(0,-2.45)(0,-2.6)(0,-2.75)(0,-3.2)(0,-3.35)(0,-3.5)(0,-3.65)(0,-4.38)
(0.1,-1.05)(0.1,-1.45)(0.1,-1.7)(0.1,-1.8)(0.1,-1.9)(0.1,-2.2)(0.1,-2.35)(0.1,-2.5)(0.1,-2.65)(0.1,-2.8)(0.1,-2.95)(0.1,-3.1)(0.1,-3.25)(0.1,-3.5)(0.1,-3.6)(0.1,-3.78)
(0.2,-1.35)(0.2,-1.55)(0.2,-1.7)(0.2,-1.85)(0.2,-2.0)(0.2,-2.15)(0.2,-2.3)(0.2,-2.45)(0.2,-2.6)(0.2,-2.75)(0.2,-2.9)(0.2,-3.05)(0.2,-3.2)(0.2,-3.5)
(0.3,-1.15)(0.3,-1.35)(0.3,-1.6)(0.3,-1.75)(0.3,-1.9)(0.3,-2.05)(0.3,-2.2)(0.3,-2.35)(0.3,-2.5)(0.3,-2.65)(0.3,-2.8)(0.3,-2.95)(0.3,-3.1)(0.3,-3.25)(0.3,-3.9)};
\addplot[rx] coordinates {
(0,-2.05)(0,-2.75)(0,-3.35)(0,-3.5)(0,-4.1)(0.1,-1.65)(0.1,-1.9)(0.1,-2.3)(0.1,-2.95)(0.1,-3.3)(0.1,-3.65)
(0.2,-1.65)(0.2,-2.25)(0.2,-2.5)(0.2,-2.9)(0.2,-3.15)(0.2,-3.35)(0.3,-1.65)(0.3,-2.4)(0.3,-2.85)(0.3,-3.05)};
\addplot[fit] coordinates {(-0.25,-2.83)(2.25,-1.08)};
\addplot[fitd] coordinates {(-0.25,-2.47)(2.25,0.15)};
\addplot[sq] coordinates {(0,-3.09)(0.1,-2.73)(0.2,-2.54)(0.3,-2.41)};
\end{axis}

\begin{axis}[panel, at={(c32)}]
\addplot[fit] coordinates {(-0.25,-2.7)(2.25,-0.9)};
\end{axis}

\begin{axis}[panel, botrow, xticklabels={,,,,2}, at={(c33)}]
\addplot[bx] coordinates {(2.2,-1.53)};
\addplot[fit] coordinates {(-0.25,-3.52)(2.25,-0.52)};
\addplot[sq] coordinates {(2.03,-2.55)(2.23,-1.28)};
\end{axis}

% ---------- inset ----------
\begin{scope}[x=0.4pt,y=-0.4pt]
  \fill[white] (165,413) rectangle (1046,1069);
\end{scope}

\begin{axis}[scale only axis, width=291.2pt, height=211.2pt, anchor=north west, at={(ins)},
  xmin=-22.2, xmax=-18, ymin=-0.1, ymax=1.5,
  xtick={-22,-21.5,-21,-20.5,-20,-19.5,-19,-18.5,-18},
  ytick={0,0.2,0.4,0.6,0.8,1.0,1.2,1.4},
  tick align=inside, major tick length=2.8pt,
  axis line style={line width=0.8pt}, every tick/.style={black, line width=0.6pt},
  tick label style={font=\fontsize{8.6}{10}\selectfont},
  /pgf/number format/.cd, fixed, fixed zerofill, precision=1, /pgfplots/.cd,
  xlabel={{\hv M}$_{1500}$}, xlabel style={at={(axis description cs:0.5,-0.07)}, anchor=center, font=\fontsize{8.6}{10}\selectfont},
  ylabel={$A_V$}, ylabel style={at={(axis description cs:-0.064,0.5)}, anchor=center, font=\fontsize{8.6}{10}\selectfont},
  legend style={at={(0.946,0.979)}, anchor=north east, draw=black, line width=0.8pt,
    font=\hv\fontsize{10}{12}\selectfont, cells={anchor=west}, inner xsep=4pt, inner ysep=2pt, row sep=0.3pt},
  legend image code/.code={\draw[#1] (0pt,0pt) -- (15pt,0pt);},
]
\addplot[fill=yellow, draw=none, forget plot] coordinates {
(-22,0.6)(-21.75,0.8)(-21.5,0.7)(-21.25,0.8)(-21,0.9)(-20.75,0.95)(-20.5,0.9)(-20.25,0.85)(-20,0.85)(-19.75,0.9)
(-19.75,0)(-20,0)(-20.25,0)(-20.5,0.05)(-20.75,0.05)(-21,0.05)(-21.25,0)(-21.5,0)(-21.75,0.1)(-22,0.2)} -- cycle;
\addplot[blue, line width=1.6pt] coordinates {(-22,0.40)(-21.75,0.44)(-21.5,0.39)(-21.25,0.43)(-21,0.48)(-20.75,0.505)(-20.5,0.51)(-20.25,0.44)(-20,0.42)(-19.75,0.42)};
\addlegendentry{mean}
\addplot[mgreen, line width=1.6pt] coordinates {(-22,0.35)(-21.75,0.40)(-21.5,0.40)(-21.25,0.40)(-21,0.40)(-20.75,0.40)(-20.5,0.50)(-20.25,0.35)(-20,0.30)(-19.75,0.30)};
\addlegendentry{median}
\addplot[red, line width=1.3pt, dash pattern=on 2pt off 1.8pt on 0.5pt off 1.8pt] coordinates {(-22,0.49)(-18,0.395)};
\addlegendentry{lin-fit}
\addplot[mcyan, line width=0.5pt, dash pattern=on 0.6pt off 1.8pt] coordinates {(-22,0.485)(-18,0.135)};
\addlegendentry{Bouwens+}
\node[anchor=west, font=\hv\fontsize{7.4}{9}\selectfont] at (axis description cs:0.133,0.896) {B-drop, D: rising};
\end{axis}

\pgfresetboundingbox
\begin{scope}[x=0.4pt,y=-0.4pt]
  \path[use as bounding box] (0,0) rectangle (1090,1069);
\end{scope}
\end{tikzpicture}
\end{document}
